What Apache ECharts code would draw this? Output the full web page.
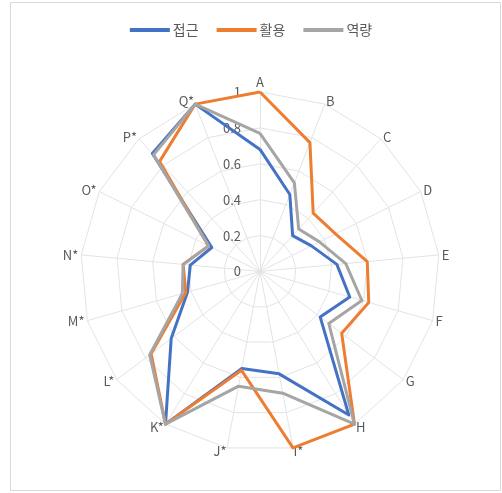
<!DOCTYPE html>
<html>
<head>
<meta charset="utf-8">
<script src="https://cdn.jsdelivr.net/npm/echarts@6/dist/echarts.min.js"></script>
<style>
  html, body { margin: 0; padding: 0; background: #fff; }
  #chart { width: 502px; height: 493px; }
</style>
</head>
<body>
<div id="chart"></div>
<script>
  // categories around the radar, clockwise from top
  const categories = ['A', 'B', 'C', 'D', 'E', 'F', 'G', 'H', 'I*', 'J*', 'K*', 'L*', 'M*', 'N*', 'O*', 'P*', 'Q*']
  const seriesNames = ['접근', '활용', '역량']
  const access = [0.68, 0.46, 0.27, 0.32, 0.43, 0.52, 0.42, 0.94, 0.58, 0.55, 1.0, 0.62, 0.42, 0.39, 0.30, 0.89, 1.0]
  const usage = [1.0, 0.77, 0.44, 0.47, 0.60, 0.63, 0.57, 1.0, 1.0, 0.56, 1.0, 0.76, 0.43, 0.43, 0.32, 0.83, 1.0]
  const capability = [0.77, 0.53, 0.32, 0.37, 0.48, 0.59, 0.48, 1.0, 0.69, 0.65, 1.0, 0.77, 0.45, 0.43, 0.32, 0.88, 1.0]
  const axisMin = 0
  const axisMax = 1
  const axisStep = 0.2

  const colors = ['#4472C4', '#ED7D31', '#A5A5A5']
  const font = '"Noto Sans CJK KR", "Noto Sans", sans-serif'
  const cx = 260, cy = 271.5, R = 179.5

  // echarts radar runs counter-clockwise, so keep the first item and reverse the rest
  const cw = arr => [arr[0]].concat(arr.slice(1).reverse())

  const myChart = echarts.init(document.getElementById('chart'))

  const option = {
    animation: false,
    color: colors,
    textStyle: { fontFamily: font },
    graphic: [{
      type: 'rect',
      shape: { x: 10.5, y: 2.5, width: 490, height: 488 },
      style: { fill: 'none', stroke: '#D9D9D9', lineWidth: 1 },
      silent: true,
      z: -10
    }],
    legend: {
      top: 18,
      left: 'center',
      data: seriesNames,
      icon: 'rect',
      itemWidth: 40,
      itemHeight: 4,
      itemGap: 18,
      textStyle: { color: '#595959', fontSize: 14, fontFamily: font, padding: [0, 0, 0, -2] }
    },
    // value labels 0 ~ 1 along the A axis
    grid: { left: cx, top: cy - R, width: 1, height: R },
    xAxis: { type: 'value', show: false },
    yAxis: {
      type: 'value',
      min: axisMin,
      max: axisMax,
      interval: axisStep,
      axisLine: { show: false },
      axisTick: { show: false },
      splitLine: { show: false },
      axisLabel: { color: '#595959', fontSize: 13, margin: 19, fontFamily: font }
    },
    radar: {
      center: [cx, cy],
      radius: R,
      startAngle: 90,
      shape: 'polygon',
      splitNumber: 5,
      indicator: cw(categories).map(c => ({ name: c, min: axisMin, max: axisMax })),
      axisName: { color: '#595959', fontSize: 13, fontFamily: font },
      nameGap: 3,
      splitArea: { show: false },
      splitLine: { lineStyle: { color: '#E3E3E3', width: 1 } },
      axisLine: { lineStyle: { color: '#E3E3E3', width: 1 } },
      axisTick: { show: false },
      axisLabel: { show: false }
    },
    series: [{
      type: 'radar',
      symbol: 'none',
      lineStyle: { width: 3 },
      data: [
        { name: seriesNames[0], value: cw(access), lineStyle: { color: colors[0], width: 3 }, itemStyle: { color: colors[0] } },
        { name: seriesNames[1], value: cw(usage), lineStyle: { color: colors[1], width: 3 }, itemStyle: { color: colors[1] } },
        { name: seriesNames[2], value: cw(capability), lineStyle: { color: colors[2], width: 3 }, itemStyle: { color: colors[2] } }
      ]
    }]
  }
  myChart.setOption(option)
</script>
</body>
</html>
